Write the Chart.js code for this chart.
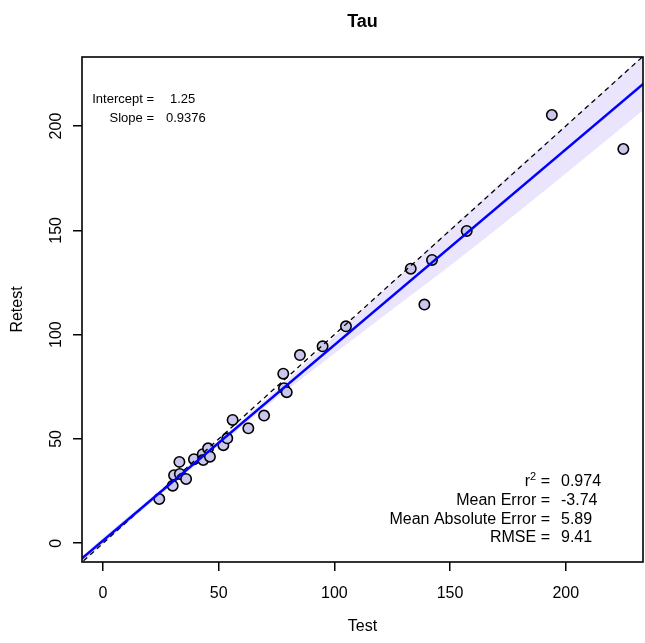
<!DOCTYPE html>
<html>
<head>
<meta charset="utf-8">
<script src="https://cdn.jsdelivr.net/npm/chart.js@4.4.0/dist/chart.umd.min.js"></script>
<style>
  html, body { margin: 0; padding: 0; background: #ffffff; }
  canvas { display: block; }
</style>
</head>
<body>
<canvas id="c" width="645" height="643" style="width:645px;height:643px"></canvas>
<script>
// Test / retest values for Tau
const testVals   = [24.3, 30.1, 30.7, 33.0, 33.2, 35.9, 39.3, 43.1, 43.3, 45.4, 46.2, 52.0, 53.7, 56.0,
                    62.8, 69.6, 77.9, 78.2, 79.4, 85.1, 94.9, 105.0, 133.0, 138.9, 142.2, 157.2, 194.0, 224.9];
const retestVals = [21.2, 27.6, 32.6, 39.0, 33.2, 30.8, 40.3, 42.7, 39.9, 45.5, 41.5, 47.0, 50.3, 59.1,
                    55.1, 61.2, 81.3, 74.3, 72.4, 90.2, 94.4, 104.0, 131.6, 114.4, 135.8, 149.7, 205.3, 189.0];

// Fitted regression line
const intercept = 1.25;
const slope = 0.9376;

// Confidence band around the fit
const bandX    = [-10, 0, 25, 50, 75, 100, 125, 150, 175, 200, 240];
const bandLow  = [-10.7, -0.2, 23.4, 46.9, 69.6, 91.0, 112.0, 133.0, 154.8, 177.3, 213.5];
const bandHigh = [-7.3, 2.7, 26.0, 49.3, 73.6, 99.0, 125.0, 150.8, 175.8, 200.3, 240.5];

// Axis ticks and range
const xTicks = [0, 50, 100, 150, 200];
const yTicks = [0, 50, 100, 150, 200];
const xRange = [-9.1, 233.4];
const yRange = [-9.0, 233.1];

// Summary statistics
const statLabels = ['r2', 'Mean Error =', 'Mean Absolute Error =', 'RMSE ='];
const statValues = ['0.974', '-3.74', '5.89', '9.41'];

const FONT = '"Liberation Sans", Arial, Helvetica, sans-serif';

const points = testVals.map((x, i) => ({ x, y: retestVals[i] }));
const fitEnds = [-20, 250].map(x => ({ x, y: intercept + slope * x }));
const idEnds = [-20, 250].map(x => ({ x, y: x }));
const lowPts = bandX.map((x, i) => ({ x, y: bandLow[i] }));
const highPts = bandX.map((x, i) => ({ x, y: bandHigh[i] }));

const decor = {
  id: 'decor',
  afterDraw(chart) {
    const ctx = chart.ctx;
    const a = chart.chartArea;
    ctx.save();
    // frame
    ctx.strokeStyle = '#000';
    ctx.lineWidth = 1.6;
    ctx.strokeRect(a.left, a.top, a.right - a.left, a.bottom - a.top);

    ctx.fillStyle = '#000';
    // title
    ctx.font = 'bold 18px ' + FONT;
    ctx.textAlign = 'center';
    ctx.textBaseline = 'middle';
    ctx.fillText('Tau', (a.left + a.right) / 2, 22);

    // axis titles
    ctx.font = '16px ' + FONT;
    ctx.fillText('Test', (a.left + a.right) / 2, 627);
    ctx.save();
    ctx.translate(18, (a.top + a.bottom) / 2);
    ctx.rotate(-Math.PI / 2);
    ctx.fillText('Retest', 0, 0);
    ctx.restore();

    // fit coefficients
    ctx.font = '13px ' + FONT;
    ctx.textAlign = 'right';
    ctx.fillText('Intercept =', 154, 99);
    ctx.fillText('Slope =', 154, 118);
    ctx.textAlign = 'left';
    ctx.fillText(String(intercept), 170, 99);
    ctx.fillText(String(slope), 166, 118);

    // summary statistics
    const labRight = 550, valLeft = 561;
    const rowY = [482, 501, 519.5, 538];
    ctx.font = '16px ' + FONT;
    statLabels.forEach((lab, i) => {
      ctx.textAlign = 'right';
      if (lab === 'r2') {
        const eq = ' =';
        ctx.fillText(eq, labRight, rowY[i]);
        let xr = labRight - ctx.measureText(eq).width;
        ctx.font = '11px ' + FONT;
        ctx.fillText('2', xr, rowY[i] - 5);
        xr -= ctx.measureText('2').width;
        ctx.font = '16px ' + FONT;
        ctx.fillText('r', xr, rowY[i]);
      } else {
        ctx.fillText(lab, labRight, rowY[i]);
      }
      ctx.textAlign = 'left';
      ctx.fillText(statValues[i], valLeft, rowY[i]);
    });
    ctx.restore();
  }
};

new Chart(document.getElementById('c'), {
  type: 'scatter',
  data: {
    datasets: [
      {
        label: 'fit',
        data: fitEnds,
        showLine: true,
        borderColor: '#0000ff',
        borderWidth: 2.6,
        pointRadius: 0,
        order: 0
      },
      {
        label: 'identity',
        data: idEnds,
        showLine: true,
        borderColor: '#000000',
        borderWidth: 1.3,
        borderDash: [5, 4],
        pointRadius: 0,
        order: 1
      },
      {
        label: 'Tau',
        data: points,
        backgroundColor: 'rgb(201,200,236)',
        borderColor: '#000000',
        borderWidth: 1.6,
        pointRadius: 5.2,
        order: 2
      },
      {
        label: 'upper',
        data: highPts,
        showLine: true,
        borderWidth: 0,
        borderColor: 'rgba(0,0,0,0)',
        pointRadius: 0,
        fill: '+1',
        backgroundColor: 'rgb(234,228,252)',
        order: 3
      },
      {
        label: 'lower',
        data: lowPts,
        showLine: true,
        borderWidth: 0,
        borderColor: 'rgba(0,0,0,0)',
        pointRadius: 0,
        fill: false,
        order: 4
      }
    ]
  },
  options: {
    responsive: false,
    animation: false,
    devicePixelRatio: 1,
    layout: { autoPadding: false, padding: { top: 57, left: 0, right: 2, bottom: 0 } },
    plugins: { legend: { display: false }, tooltip: { enabled: false }, title: { display: false } },
    scales: {
      x: {
        type: 'linear',
        position: 'bottom',
        min: xRange[0],
        max: xRange[1],
        afterBuildTicks: s => { s.ticks = xTicks.map(v => ({ value: v })); },
        afterFit: s => { s.height = 81; s.paddingLeft = 0; s.paddingRight = 0; },
        grid: { drawOnChartArea: false, drawTicks: true, tickLength: 9, color: '#000', lineWidth: 1.5 },
        border: { display: false },
        ticks: { color: '#000', font: { size: 16, family: FONT }, padding: 13, maxRotation: 0, autoSkip: false }
      },
      y: {
        type: 'linear',
        position: 'left',
        min: yRange[0],
        max: yRange[1],
        afterBuildTicks: s => { s.ticks = yTicks.map(v => ({ value: v })); },
        afterFit: s => { s.width = 82; s.paddingTop = 0; s.paddingBottom = 0; },
        grid: { drawOnChartArea: false, drawTicks: true, tickLength: 9, color: '#000', lineWidth: 1.5 },
        border: { display: false },
        ticks: { color: '#000', font: { size: 16, family: FONT }, padding: 3, minRotation: 90, maxRotation: 90,
                 crossAlign: 'center', autoSkip: false }
      }
    }
  },
  plugins: [decor]
});
</script>
</body>
</html>
